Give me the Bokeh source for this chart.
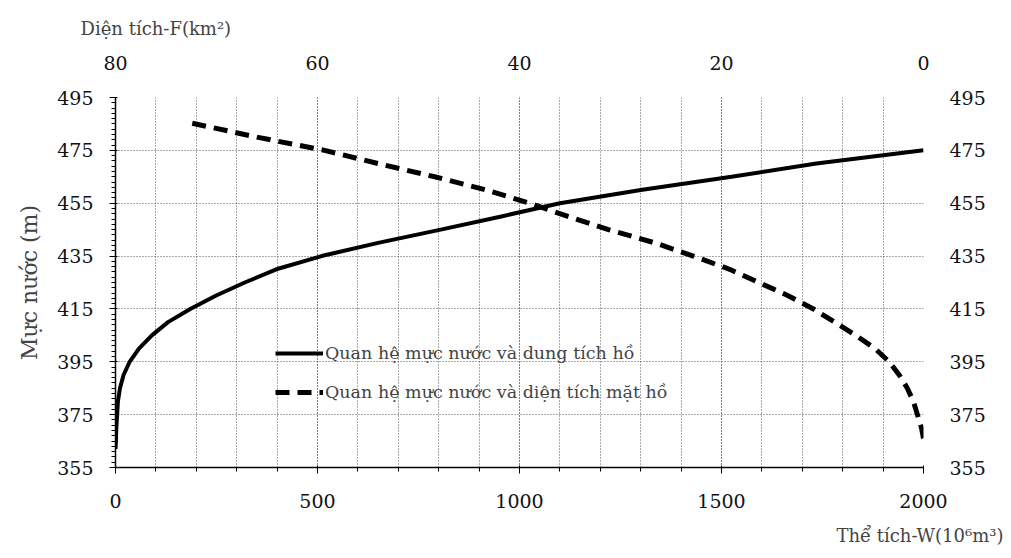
from bokeh.plotting import figure
from bokeh.models import (LinearAxis, Range1d, FixedTicker, Legend, LegendItem, Title)
from bokeh.embed import file_html
from bokeh.resources import INLINE

# Level-volume relation
level_vol = [362, 365, 370, 375, 380, 385, 390, 395, 400, 405, 410, 415, 420, 425,
             430, 435, 440, 445, 450, 455, 460, 465, 470, 475]
volume = [0, 1, 2, 4, 6, 11, 20, 35, 58, 90, 130, 185, 248, 320,
          398, 510, 650, 805, 955, 1100, 1300, 1525, 1735, 2000]

# Level-area relation
level_area = [366, 370, 375, 380, 385, 390, 395, 400, 405, 410, 415, 420, 425, 430,
              435, 440, 445, 450, 455, 460, 465, 470, 475, 480, 485.5]
area = [0, 0.2, 0.6, 1.0, 1.6, 2.4, 3.4, 4.8, 6.7, 8.8, 10.9, 13.4, 16.3, 19.2,
        22.8, 26.6, 31.2, 35.2, 39.0, 43.3, 48.4, 54.0, 59.3, 66.0, 72.7]

y_ticks = [355, 375, 395, 415, 435, 455, 475, 495]
x_ticks = [0, 500, 1000, 1500, 2000]
f_ticks = [80, 60, 40, 20, 0]

FONT = "DejaVu Serif"

p = figure(width=1005, height=558, x_range=Range1d(0, 2000), y_range=Range1d(355, 495),
           output_backend="svg", toolbar_location=None,
           min_border_left=115, min_border_right=82, min_border_top=97, min_border_bottom=91)
p.extra_x_ranges = {"F": Range1d(80, 0)}
p.outline_line_color = None
p.background_fill_color = "white"

# titles used as the top-left and bottom-right axis names
p.title.text = "Diện tích-F(km²)"
p.title.align = "left"
p.title.offset = -35
p.title.text_font = FONT
p.title.text_font_size = "18px"
p.title.text_font_style = "normal"
p.title.standoff = 28

# axes
p.xaxis.ticker = FixedTicker(ticks=x_ticks, minor_ticks=list(range(0, 2001, 100)))
p.yaxis.ticker = FixedTicker(ticks=y_ticks, minor_ticks=list(range(355, 496, 2)))
for ax in (p.xaxis[0], p.yaxis[0]):
    ax.axis_line_color = "black"
    ax.axis_line_width = 1.5
    ax.major_tick_line_color = "black"
    ax.minor_tick_line_color = "black"
    ax.major_tick_out = 6
    ax.major_tick_in = 2
    ax.minor_tick_out = 4
    ax.minor_tick_in = 0
    ax.major_label_text_font = FONT
    ax.major_label_text_font_size = "19px"
    ax.major_label_text_color = "#111111"
p.xaxis.major_label_standoff = 20
p.yaxis.major_label_standoff = 16
p.yaxis.axis_label = "Mực nước (m)"
p.yaxis.axis_label_text_font = FONT
p.yaxis.axis_label_text_font_size = "22px"
p.yaxis.axis_label_text_font_style = "normal"
p.yaxis.axis_label_standoff = 12

top = LinearAxis(x_range_name="F", ticker=FixedTicker(ticks=f_ticks))
right = LinearAxis(ticker=FixedTicker(ticks=y_ticks))
for ax in (top, right):
    ax.axis_line_color = None
    ax.major_tick_line_color = None
    ax.minor_tick_line_color = None
    ax.major_label_text_font = FONT
    ax.major_label_text_font_size = "19px"
    ax.major_label_text_color = "#111111"
top.major_label_standoff = 22
right.major_label_standoff = 20
p.add_layout(top, "above")
p.add_layout(right, "right")

p.add_layout(Title(text="Thể tích-W(10⁶m³)", align="right", offset=-80,
                   text_font=FONT, text_font_size="18px", text_font_style="normal",
                   standoff=25), "below")

# grid
p.xgrid.ticker = FixedTicker(ticks=x_ticks, minor_ticks=list(range(0, 2001, 100)))
p.xgrid.grid_line_color = "#555555"
p.xgrid.grid_line_dash = "1 2"
p.xgrid.minor_grid_line_color = "#555555"
p.xgrid.minor_grid_line_dash = "1 2"
p.ygrid.grid_line_color = "#555555"
p.ygrid.grid_line_dash = "1 2"

r1 = p.line(volume, level_vol, line_color="black", line_width=4)
r2 = p.line(area, level_area, x_range_name="F", line_color="black", line_width=5,
            line_dash="14 8")

legend = Legend(items=[LegendItem(label="Quan hệ mực nước và dung tích hồ", renderers=[r1]),
                       LegendItem(label="Quan hệ mực nước và diện tích mặt hồ", renderers=[r2])],
                location=(160, 65), glyph_width=48, spacing=19, padding=4,
                label_standoff=2, border_line_color=None, background_fill_alpha=0,
                label_text_font=FONT, label_text_font_size="17.5px")
p.add_layout(legend, "center")

open("out.html", "w").write(file_html(p, INLINE))
